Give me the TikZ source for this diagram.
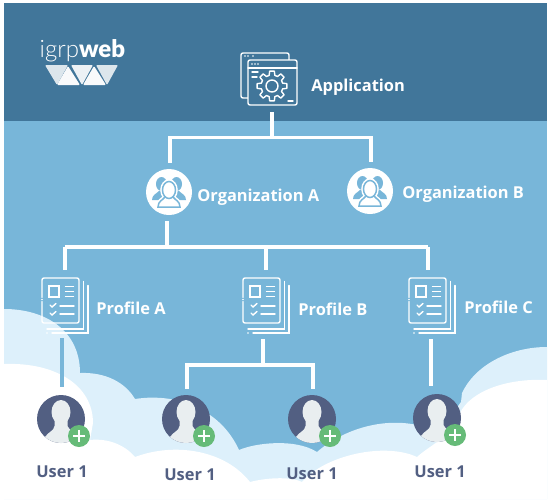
\documentclass[tikz,border=0pt]{standalone}
\usepackage{fontspec}
\setmainfont{Open Sans}
\newfontfamily\logofont{Lato}[UprightFont=* Light,BoldFont=* Black]
\usetikzlibrary{positioning}
\definecolor{bandblue}{HTML}{41769A}
\definecolor{skyblue}{HTML}{78B6D9}
\definecolor{cloudblue}{HTML}{DDF0FB}
\definecolor{userblue}{HTML}{525F82}
\definecolor{facegray}{HTML}{E9EEF0}
\definecolor{plusgreen}{HTML}{66BB78}
\begin{document}
\begin{tikzpicture}[%
      x=1pt,y=-1pt,
      node distance=5pt and 5pt, % labels next to their icons
      font=\bfseries
      ]
  \tikzset{
    wire/.style={draw=white,line width=3.2pt,line cap=butt},
    iconline/.style={draw=white,line width=1.4pt,line cap=round},
    label/.style={text=white,font=\fontsize{16.4}{18}\selectfont\bfseries,inner sep=0pt},
    userlabel/.style={text=userblue,font=\fontsize{16.4}{18}\selectfont\bfseries,inner sep=0pt},
    appbox/.style={minimum width=56pt,minimum height=52pt,inner sep=0pt},
    orgdisc/.style={circle,fill=white,minimum size=46pt,inner sep=0pt},
    profbox/.style={minimum width=46pt,minimum height=55pt,inner sep=0pt},
    userdisc/.style={circle,fill=userblue,minimum size=48pt,inner sep=0pt},
    appicon/.pic={
      \draw[iconline,rounded corners=2pt] (-28,-26) rectangle (20,19);
      \draw[iconline,fill=bandblue,rounded corners=2pt] (-21,-19) rectangle (28,26);
      \draw[iconline] (-21,-11) -- (28,-11) (-17,-7) -- (-11,-7) (-17,-2) -- (-12,-2) (19,22) -- (24,22);
      \foreach \i in {-24,-21,-16} \fill[white] (\i,-23) circle (.8);
      \foreach \i in {-17,-14,-11} \fill[white] (\i,-15) circle (.8);
      \begin{scope}[shift={(3,7)}]
        \draw[iconline,fill=bandblue,line join=round] (-15:11) \foreach \a in {0,45,...,315} {
          -- (\a-9:15) -- (\a+9:15) -- (\a+15:11) -- (\a+30:11)} -- cycle;
        \draw[iconline] (0,0) circle (6);
      \end{scope}
    },
    orgicon/.pic={
      \foreach \s in {-1,1} {
        \fill[skyblue] (\s*7.5,-8) ellipse (5.5 and 7);
        \fill[skyblue] (\s*17,8) .. controls (\s*17,3) and (\s*13,2) .. (\s*10,-1) -- (\s*3,-1) -- (\s*3,8) -- cycle;
      }
      \draw[white,fill=white,line width=4.5pt] (-11,15) .. controls (-11,9) and (-6,8) .. (-4,5) -- (4,5) .. controls (6,8) and (11,9) .. (11,15) -- cycle;
      \draw[white,fill=white,line width=4.5pt] (0,-2) ellipse (6.5 and 8.5);
      \draw[skyblue,fill=white,line width=1.5pt] (-11,15) .. controls (-11,9) and (-6,8) .. (-4,5) -- (4,5) .. controls (6,8) and (11,9) .. (11,15) -- cycle;
      \draw[skyblue,fill=white,line width=1.5pt] (0,-2) ellipse (6.5 and 8.5);
    },
    profileicon/.pic={
      \draw[iconline,rounded corners=2pt] (-23,-8) |- (14,-27.5) |- (-23,17.5) -- (-23,-4);
      \fill[white] (-23,-6) circle (.8);
      \draw[iconline] (18.5,-24) -- (18.5,23.5) -- (-18,23.5) (23,-20) -- (23,27.5) -- (-13,27.5);
      \fill[white] (-18,27.5) circle (.8);
      \draw[iconline] (-16,-19.5) rectangle (-6,-8.5);
      \draw[iconline] (0.5,-19) -- (8.5,-19) (0.5,-14) -- (8.5,-14) (0.5,-9) -- (8.5,-9)
        (-5,0.5) -- (9,0.5) (-5,8.5) -- (9,8.5);
      \foreach \i in {0,8} \draw[iconline] (-15,\i-.5) -- (-13,\i+1.5) -- (-9,\i-2);
    },
    usericon/.pic={
      \begin{scope}
        \clip (0,0) circle (24);
        \fill[facegray] (0,-7) ellipse (9.5 and 12);
        \fill[facegray] (-16,18) .. controls (-13,13) and (-7,12) .. (-6.5,7) -- (-6.5,0) -- (6.5,0) -- (6.5,7) .. controls (7,12) and (18,13) .. (24,18) -- (24,30) -- (-24,30) -- cycle;
      \end{scope}
      \fill[plusgreen] (18,17) circle (11);
      \draw[white,line width=1.8pt] (12,17) -- (24,17) (18,11) -- (18,23);
    }
  }

 % background
 \fill[white] (0,0) rectangle (551,499);
 \fill[skyblue] (4,3) rectangle (547,499);
 \fill[bandblue] (4,3) rectangle (547,121);
 \fill[cloudblue] (4,309) .. controls (45,309) and (80,330) .. (80,373)
   .. controls (105,372) and (125,382) .. (135,399)
   .. controls (180,392) and (222,412) .. (239,450)
   .. controls (255,443) and (295,438) .. (317,452)
   .. controls (342,430) and (385,415) .. (425,427)
   .. controls (440,420) and (455,412) .. (461,402)
   -- (462,393) .. controls (475,365) and (510,347) .. (547,347)
   -- (547,499) -- (4,499) -- cycle;
 \fill[white] (4,364) .. controls (55,362) and (93,385) .. (93,423) -- (90,440)
   .. controls (108,438) and (125,445) .. (135,457)
   .. controls (175,442) and (225,450) .. (250,482)
   .. controls (265,478) and (290,476) .. (302,482)
   .. controls (325,455) and (385,442) .. (417,457)
   .. controls (430,445) and (450,438) .. (460,413)
   .. controls (470,392) and (505,378) .. (547,380)
   -- (547,499) -- (4,499) -- cycle;

 % logo
 \node[text=white,inner sep=0pt,anchor=west] (logo) at (39.5,51) {\logofont\fontsize{24}{26}\selectfont\mdseries igrp\textbf{web}};
 \fill[white,opacity=.82,rounded corners=1pt] (45,65) -- (68,65) -- (57,85) -- cycle (96,65) -- (118,65) -- (107,85) -- cycle;
 \fill[white,opacity=.9,rounded corners=1pt] (71,65) -- (93,65) -- (82,85) -- cycle;
 \fill[white,opacity=.97,rounded corners=1pt] (57,85) -- (68,66) -- (80,85) -- cycle (83,85) -- (94,66) -- (106,85) -- cycle;

 \node[appbox] (app) at (269,79) {};
 \node[label,right=14pt of app,yshift=-8pt] (applbl) {Application};

 \node[orgdisc] (orga) at (169,192) {};
 \node[label,right=5pt of orga,yshift=-5pt] (orgalbl) {Organization A};
 \node[orgdisc] (orgb) at (370,191) {};
 \node[label,right=9pt of orgb,yshift=-3pt] (orgblbl) {Organization B};

 \node[profbox] (profa) at (65,305.5) {};
 \node[label,right=8pt of profa,yshift=-2.5pt] (profalbl) {Profile A};
 \node[profbox] (profb) at (266,305.5) {};
 \node[label,right=9pt of profb,yshift=-4pt] (profblbl) {Profile B};
 \node[profbox] (profc) at (432,305.5) {};
 \node[label,right=9pt of profc,yshift=-2pt] (profclbl) {Profile C};

 \node[userdisc] (usera) at (61,419) {};
 \node[userlabel] (useralbl) at (62,472) {User 1};
 \node[userdisc] (userb) at (186,419) {};
 \node[userlabel] (userblbl) at (190,475) {User 1};
 \node[userdisc] (userc) at (312,419) {};
 \node[userlabel] (userclbl) at (312,474) {User 1};
 \node[userdisc] (userd) at (437,418) {};
 \node[userlabel] (userdlbl) at (440,472) {User 1};

 \pic at (app) {appicon};
 \pic at (orga) {orgicon};
 \pic at (orgb) {orgicon};
 \pic at (profa) {profileicon};
 \pic at (profb) {profileicon};
 \pic at (profc) {profileicon};
 \pic at (usera) {usericon};
 \pic at (userb) {usericon};
 \pic at (userc) {usericon};
 \pic at (userd) {usericon};

 \coordinate (jroot) at (272,137.5);
 \coordinate (jorgl) at (170,137.5);
 \coordinate (jorgr) at (371,137.5);
 \coordinate (busa) at (65,247);
 \coordinate (busb) at (266,247);
 \coordinate (busc) at (428,247);
 \coordinate (jorg) at (167,247);
 \coordinate (jusera) at (62,360);
 \coordinate (jsplit) at (263,365);
 \coordinate (jsplitl) at (187,365);
 \coordinate (jsplitr) at (313,365);
 \coordinate (juserd) at (431,360);

 \draw[wire,shorten <=7pt] (jroot |- app.south) -- (jroot);
 \draw[wire,line join=miter,shorten <=6pt,shorten >=6pt] (jorgl |- orga.north) -- (jorgl) -- (jorgr) -- (jorgr |- orgb.north);
 \draw[wire,shorten <=6pt] (jorg |- orga.south) -- (jorg);
 \draw[wire,line cap=square] (busa) -- (busc);
 \draw[wire,shorten >=8pt] (busa) -- (busa |- profa.north);
 \draw[wire,shorten >=8pt] (busb) -- (busb |- profb.north);
 \draw[wire,shorten >=8pt] (busc) -- (busc |- profc.north);
 \draw[draw=skyblue,line width=3.2pt,shorten <=5pt,shorten >=8pt] (jusera |- profa.south) -- (jusera |- usera.north);
 \draw[wire,shorten <=6pt] (jsplit |- profb.south) -- (jsplit);
 \draw[wire,line join=miter,shorten <=6pt,shorten >=6pt] (jsplitl |- userb.north) -- (jsplitl) -- (jsplitr) -- (jsplitr |- userc.north);
 \draw[wire,shorten <=6pt,shorten >=8pt] (juserd |- profc.south) -- (juserd |- userd.north);
 \end{tikzpicture}
\end{document}
